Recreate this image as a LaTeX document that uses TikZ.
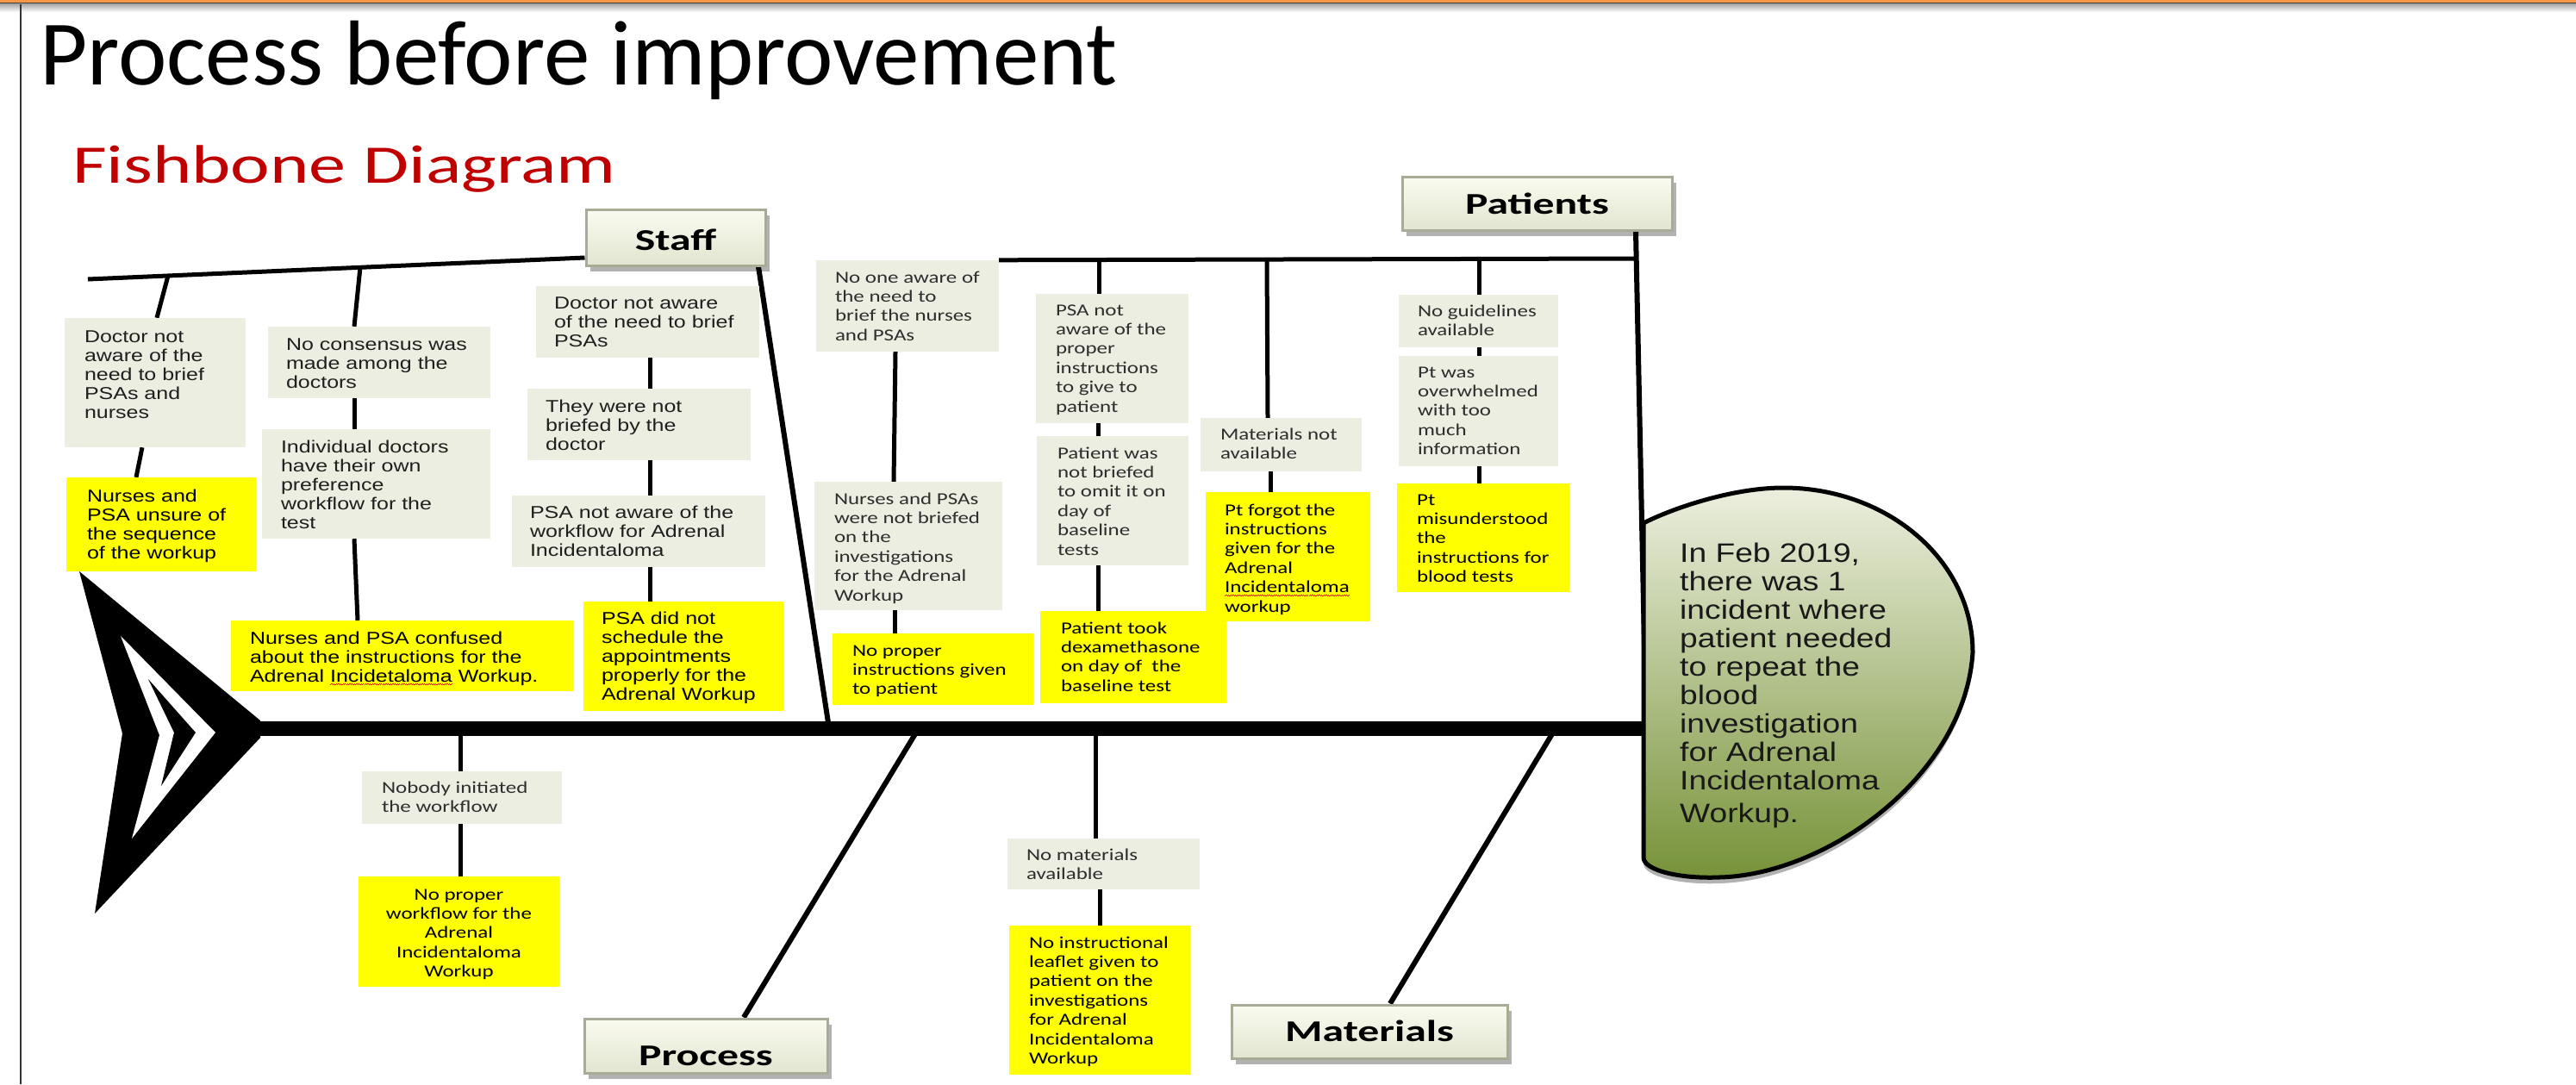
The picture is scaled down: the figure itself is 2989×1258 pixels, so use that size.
\documentclass[tikz,border=0pt]{standalone}
\usepackage{fontspec}
\usetikzlibrary{shadows}
\setmainfont{Liberation Sans}
\newfontfamily\fTitle{Carlito}
\newfontfamily\fFish[FakeStretch=1.37]{Carlito}
\newfontfamily\fHdr[FakeStretch=1.42]{Carlito}
\newfontfamily\fAr[FakeStretch=1.25]{Liberation Sans}
\newfontfamily\fHead[FakeStretch=1.2]{Liberation Sans}
\newfontfamily\fCal[FakeStretch=1.28]{Carlito}
\newsavebox\wavebox
\newcommand\redwave[1]{\sbox\wavebox{#1}\rlap{\hbox to \wd\wavebox{\color{red}\xleaders\hbox{\raisebox{-4pt}{\rule{1.3pt}{0.9pt}}\raisebox{-3pt}{\rule{1.3pt}{0.9pt}}}\hfill}}\usebox\wavebox}
\definecolor{gfill}{RGB}{235,238,224}
\definecolor{ylw}{RGB}{255,255,0}
\definecolor{orng}{RGB}{247,150,70}
\definecolor{fbred}{RGB}{192,0,0}
\definecolor{hl}{RGB}{236,239,222}
\definecolor{hd}{RGB}{118,146,56}
\definecolor{htop}{RGB}{250,251,240}
\definecolor{hbot}{RGB}{226,229,208}
\definecolor{hedge}{RGB}{168,172,150}
\pgfdeclarelayer{bg}
\pgfsetlayers{bg,main}
\newcommand\fbx[9]{\node[#2, minimum width={#5-#3}, minimum height={#6-#4}] (#1) at ({(#3+#5)/2},{(#4+#6)/2}) {\parbox[c][\dimexpr#6pt-#4pt\relax][t]{\dimexpr#5pt-#3pt\relax}{\leftskip=#7pt\rightskip=-200pt plus 1fil\rule{0pt}{#8pt}#9}};}
\tikzset{
 gA/.style={fill=gfill, inner sep=0pt, text=black!88, font=\fAr\fontsize{20}{22}\selectfont},
 yA/.style={fill=ylw, inner sep=0pt, text=black, font=\fAr\fontsize{20}{22}\selectfont},
 gC/.style={fill=gfill, inner sep=0pt, text=black!82, font=\fCal\fontsize{19.5}{22.4}\selectfont},
 yC/.style={fill=ylw, inner sep=0pt, text=black, font=\fCal\fontsize{19.5}{22.4}\selectfont},
 hdr/.style={draw=hedge, line width=3pt, top color=htop, bottom color=hbot, inner sep=0pt,
   font=\fHdr\bfseries\fontsize{35}{40}\selectfont,
   drop shadow={shadow xshift=5pt, shadow yshift=-7pt, opacity=0.3, fill=black}},
 bone/.style={line width=5pt, black},
 diag/.style={line width=6pt, black},
}
\begin{document}
\begin{tikzpicture}[x=1pt,y=-1pt]
\useasboundingbox (0,0) rectangle (2989,1258);
\begin{pgfonlayer}{bg}
\fill[white] (0,0) rectangle (2989,1258);
\end{pgfonlayer}
% frame
\fill[orng] (0,0) rectangle (2989,3);
\fill[black!75] (0,3) rectangle (2989,4.5);
\shade[top color=black!35, bottom color=white] (0,4.5) rectangle (2989,14);
\draw[line width=1.5pt, black!80] (24,4.5) -- (24,1258);
% titles
\node[anchor=base west, inner sep=0pt, font=\fTitle\fontsize{107}{112}\selectfont] (title) at (46,98) {Process before improvement};
\node[anchor=base west, inner sep=0pt, text=fbred, font=\fFish\fontsize{63}{70}\selectfont] (fish) at (84,212) {Fishbone Diagram};
% category headers
\node[hdr, minimum width=208pt, minimum height=65pt, text height=47pt, text depth=18pt] (staff) at (784,275.5) {Staff};
\node[hdr, minimum width=313pt, minimum height=62pt, text height=43pt, text depth=19pt] (pat) at (1783.5,236) {Patients};
\node[hdr, minimum width=282pt, minimum height=63pt, text height=54pt, text depth=9pt] (proc) at (819,1213.5) {Process};
\node[hdr, minimum width=320pt, minimum height=62pt, text height=42pt, text depth=20pt] (mat) at (1589,1197) {Materials};
% staff boxes
\fbx{s1}{gA}{75}{369}{285}{519}{23}{28}{Doctor not\\aware of the\\need to brief\\PSAs and\\nurses}
\fbx{s1y}{yA}{77}{554}{297}{663}{24}{28}{Nurses and\\PSA unsure of\\the sequence\\of the workup}
\fbx{s2}{gA}{311}{379}{569}{462}{21}{27}{No consensus was\\made among the\\doctors}
\fbx{s2b}{gA}{304}{498}{569}{625}{22}{27}{Individual doctors\\have their own\\preference\\workflow for the\\test}
\fbx{s2y}{yA}{268}{720}{665}{802}{22}{27}{Nurses and PSA confused\\about the instructions for the\\Adrenal \redwave{Incidetaloma} Workup.}
\fbx{s3}{gA}{622}{332}{881}{415}{21}{26}{Doctor not aware\\of the need to brief\\PSAs}
\fbx{s3b}{gA}{612}{451}{871}{534}{21}{27}{They were not\\briefed by the\\doctor}
\fbx{s3c}{gA}{594}{575}{888}{658}{21}{26}{PSA not aware of the\\workflow for Adrenal\\Incidentaloma}
\fbx{s3y}{yA}{677}{698}{909}{825}{21}{26}{PSA did not\\schedule the\\appointments\\properly for the\\Adrenal Workup}
% middle / patients boxes
\fbx{m1}{gC}{947}{302}{1159}{408}{22}{26}{No one aware of\\the need to\\brief the nurses\\and PSAs}
\fbx{m1b}{gC}{945}{559}{1163}{708}{23}{26}{Nurses and PSAs\\were not briefed\\on the\\investigations\\for the Adrenal\\Workup}
\fbx{m1y}{yC}{966}{735}{1199}{818}{23}{26}{No proper\\instructions given\\to patient}
\fbx{m2}{gC}{1202}{341}{1379}{491}{23}{25}{PSA not\\aware of the\\proper\\instructions\\to give to\\patient}
\fbx{m2b}{gC}{1203}{506}{1379}{656}{24}{26}{Patient was\\not briefed\\to omit it on\\day of\\baseline\\tests}
\fbx{m2y}{yC}{1207}{709}{1423}{816}{24}{26}{Patient took\\dexamethasone\\on day of\ \ the\\baseline test}
\fbx{m3}{gC}{1393}{485}{1580}{547}{23}{25}{Materials not\\available}
\fbx{m3y}{yC}{1399}{571}{1590}{721}{22}{27}{Pt forgot the\\instructions\\given for the\\Adrenal\\\redwave{Incidentaloma}\\workup}
\fbx{m4}{gC}{1623}{342}{1808}{403}{22}{25}{No guidelines\\available}
\fbx{m4b}{gC}{1623}{413}{1808}{541}{22}{25}{Pt was\\overwhelmed\\with too\\much\\information}
\fbx{m4y}{yC}{1621}{561}{1821}{687}{23}{25}{Pt\\misunderstood\\the\\instructions for\\blood tests}
% bottom boxes
\fbx{b1}{gC}{420}{895}{652}{956}{23}{25}{Nobody initiated\\the workflow}
\fbx{b1y}{yC}{416}{1017}{649}{1145}{0}{27}{\centering No proper\\workflow for the\\Adrenal\\Incidentaloma\\Workup}
\fbx{b2}{gC}{1169}{973}{1392}{1032}{22}{25}{No materials\\available}
\fbx{b2y}{yC}{1171}{1074}{1381}{1247}{23}{26}{No instructional\\leaflet given to\\patient on the\\investigations\\for Adrenal\\Incidentaloma\\Workup}
% head text
\node[anchor=north west, inner sep=0pt, align=left, text=black!90, font=\fHead\fontsize{31}{33}\selectfont] (headtxt) at (1949,626)
 {\rule{0pt}{26pt}In Feb 2019,\\there was 1\\incident where\\patient needed\\to repeat the\\blood\\investigation\\for Adrenal\\Incidentaloma\\[5pt]Workup.};
% skeleton
\coordinate (stL) at (102,324);
\coordinate (st1) at (195,320);
\coordinate (st2) at (418,310);
\coordinate (ptR) at (1898,300);
\coordinate (pt1) at (1275,303);
\coordinate (pt2) at (1470,302);
\coordinate (pt3) at (1716,301);
\coordinate (spL) at (300,845);
\coordinate (spR) at (1910,845);
\coordinate (jS) at (962,845);
\coordinate (jP) at (1066,845);
\coordinate (jM) at (1805,845);
\coordinate (jB1) at (534,845);
\coordinate (jB2) at (1271,845);
\coordinate (jPat) at (1910,845);
\begin{pgfonlayer}{bg}
% staff
\draw[bone] (stL) -- (staff.west |- 0,299);
\draw[bone] (st1) -- (182,0 |- s1.north);
\draw[bone] (165,0 |- s1.south) -- (158,0 |- s1y.north);
\draw[bone] (st2) -- (411,0 |- s2.north);
\draw[bone] (411,0 |- s2.south) -- (411,0 |- s2b.north);
\draw[bone] (411,0 |- s2b.south) -- (415,0 |- s2y.north);
\draw[bone] (754,0 |- s3.south) -- (754,0 |- s3b.north);
\draw[bone] (754,0 |- s3b.south) -- (754,0 |- s3c.north);
\draw[bone] (754,0 |- s3c.south) -- (754,0 |- s3y.north);
\draw[diag] (880,0 |- staff.south) -- (jS);
% patients
\draw[bone] (m1.north east) -- (ptR);
\draw[diag] (1898,0 |- pat.south) -- (jPat);
\draw[bone] (1039,0 |- m1.south) -- (1037,0 |- m1b.north);
\draw[bone] (1038,0 |- m1b.south) -- (1038,0 |- m1y.north);
\draw[bone] (pt1) -- (1275,0 |- m2.north);
\draw[bone] (1274,0 |- m2.south) -- (1274,0 |- m2b.north);
\draw[bone] (1274,0 |- m2b.south) -- (1274,0 |- m2y.north);
\draw[bone] (pt2) -- (1471,0 |- m3.north);
\draw[bone] (1474,0 |- m3.south) -- (1474,0 |- m3y.north);
\draw[bone] (pt3) -- (1716,0 |- m4.north);
\draw[bone] (1716,0 |- m4.south) -- (1716,0 |- m4b.north);
\draw[bone] (1716,0 |- m4b.south) -- (1716,0 |- m4y.north);
% process / materials
\draw[diag] (jP) -- (863,0 |- proc.north);
\draw[bone] (jB1) -- (534,0 |- b1.north);
\draw[bone] (534,0 |- b1.south) -- (534,0 |- b1y.north);
\draw[diag] (jM) -- (1613,0 |- mat.north);
\draw[bone] (jB2) -- (1271,0 |- b2.north);
\draw[bone] (1276,0 |- b2.south) -- (1276,0 |- b2y.north);
% spine
\draw[line width=17pt] (spL) -- (spR);
% tail
\fill[black] (92,663) -- (302,836) -- (302,856) -- (110,1060) -- (142,851) -- cycle;
\fill[white] (140,738) -- (250,850) -- (153,973) -- (185,853) -- cycle;
\fill[black] (172,788) -- (227,850) -- (187,912) -- (202,850) -- cycle;
% head
\path[draw=black, line width=5pt, top color=hl, middle color=hl!96!hd, bottom color=hd,
      drop shadow={shadow xshift=0pt, shadow yshift=-7pt, opacity=0.3, fill=black}]
  (1907,607) .. controls (1940,590) and (2010,566) .. (2069,566)
  .. controls (2190,566) and (2289,650) .. (2289,757)
  .. controls (2280,900) and (2120,1015) .. (1995,1018)
  .. controls (1950,1020) and (1907,1010) .. (1907,995) -- cycle;
\end{pgfonlayer}
\end{tikzpicture}
\end{document}
